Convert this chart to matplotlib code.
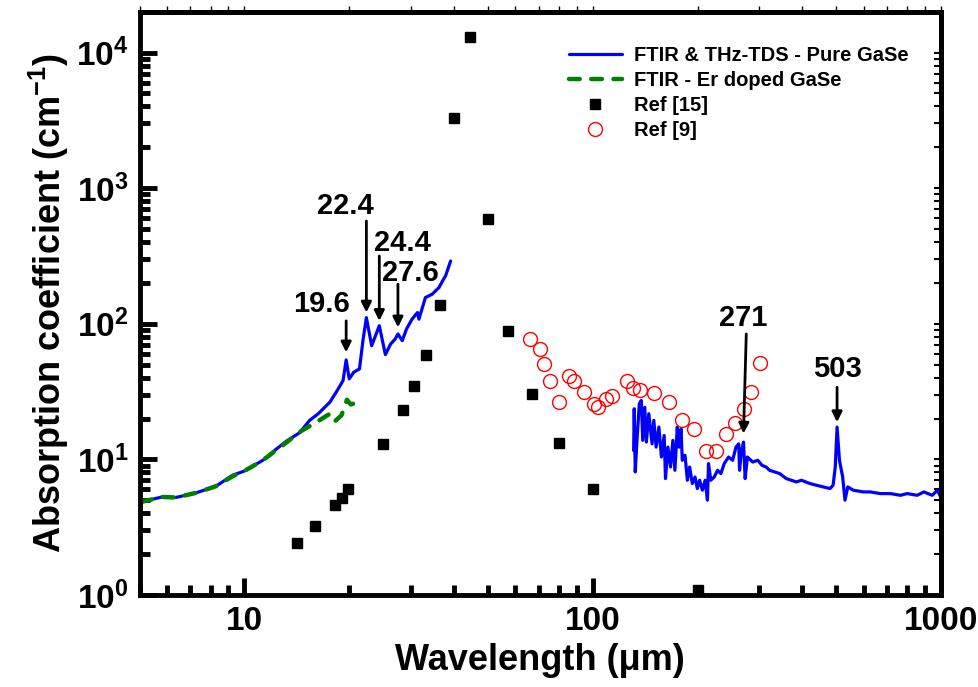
import math
import matplotlib
matplotlib.use('Agg')
import matplotlib.pyplot as plt
from matplotlib.ticker import LogLocator, FuncFormatter, NullFormatter

plt.rcParams['font.family'] = ['Liberation Sans', 'DejaVu Sans']
plt.rcParams['font.weight'] = 'bold'
plt.rcParams['mathtext.fontset'] = 'custom'
plt.rcParams['mathtext.rm'] = 'Liberation Sans:bold'
plt.rcParams['mathtext.bf'] = 'Liberation Sans:bold'
plt.rcParams['mathtext.it'] = 'Liberation Sans:bold:italic'

# FTIR part of the pure GaSe curve (um, cm^-1)
ftir_wl = [5.06, 5.80, 6.35, 7.25, 8.28, 9.25, 10.0, 11.3, 12.4, 13.2, 14.4, 15.4,
           16.3, 17.6, 18.6, 19.2, 19.6, 20.0, 20.6, 21.4, 21.9, 22.4, 23.2, 24.4,
           25.4, 26.3, 27.1, 27.6, 28.4, 29.2, 30.3, 31.4, 31.7, 33.1, 34.6, 36.2,
           37.3, 37.8, 39.1]
ftir_abs = [4.85, 5.28, 5.23, 5.65, 6.33, 7.63, 8.20, 9.84, 12.0, 13.6, 15.7, 19.4,
            21.7, 26.4, 33.1, 38.1, 54.1, 39.2, 43.9, 46.4, 75.0, 111, 68.9, 96.7,
            59.2, 70.9, 77.2, 84.0, 75.0, 91.4, 108, 121, 108, 156, 165, 185,
            213, 225, 290]

# THz-TDS part of the pure GaSe curve
thz_wl = [131.1, 131.6, 132.5, 134.0, 136.1, 137.9, 139.2, 141.1, 142.6, 144.9,
          148.1, 149.8, 152.1, 154.9, 157.5, 160.4, 161.8, 164.4, 167.3, 169.9,
          172.2, 174.9, 176.9, 179.3, 180.8, 184.1, 187.0, 189.8, 193.2, 196.7,
          199.7, 202.8, 206.5, 210.3, 213.5, 215.0, 218.3, 223.3, 228.3, 233.3,
          238.6, 245.5, 252.2, 257.8, 262.5, 264.0, 267.5, 271.0, 274.0, 278.0,
          288.1, 297.8, 306.4, 314.7, 322.0, 333.0, 344.3, 359.6, 371.8, 384.4,
          397.4, 420.2, 439.1, 459.1, 479.9, 490.0, 497.0, 503.0, 511.0, 522.0,
          530.0, 540.0, 560.0, 599.0, 626.2, 669.4, 715.5, 764.8, 799.0, 854.2,
          893.1, 943.8, 975.7, 998.0]
thz_abs = [11.6, 23.6, 8.07, 13.8, 25.7, 27.2, 13.8, 24.2, 13.4, 21.7,
           13.0, 19.4, 12.3, 17.3, 10.4, 15.0, 7.21, 12.3, 8.78, 13.8,
           8.30, 17.3, 12.3, 16.8, 9.84, 10.7, 7.01, 8.78, 6.63, 7.41,
           6.09, 7.01, 5.92, 7.01, 5.00, 9.30, 7.01, 7.41, 8.30, 7.85,
           9.30, 10.4, 9.84, 12.3, 13.0, 8.30, 11.6, 13.4, 7.21, 10.4,
           9.55, 9.84, 9.03, 8.78, 8.30, 8.07, 7.85, 7.21, 7.01, 6.81,
           7.01, 6.63, 6.44, 6.26, 6.09, 6.44, 8.78, 17.3, 9.84, 7.41,
           5.00, 6.26, 5.92, 5.75, 5.75, 5.59, 5.59, 5.43, 5.59, 5.43,
           5.75, 5.43, 5.92, 5.28]

# FTIR - Er doped GaSe
er_wl = [5.06, 5.80, 6.35, 7.25, 8.28, 9.25, 10.0, 11.3, 12.4, 13.2, 14.4, 16.1,
         17.6, 18.2, 19.0, 19.7, 20.2, 21.6]
er_abs = [4.85, 5.28, 5.23, 5.65, 6.33, 7.5, 8.2, 9.84, 11.8, 13.3, 15.9, 18.8,
          21.7, 19.1, 21.1, 27.5, 25.4, 26.7]

# Ref [15]
ref15_wl = [14.2, 15.9, 18.2, 19.1, 19.9, 25.0, 28.6, 30.7, 33.3, 36.4, 39.9, 44.4,
            50.0, 57.3, 66.8, 80.2, 100.2, 201]
ref15_abs = [2.42, 3.23, 4.57, 5.23, 6.06, 12.97, 23.2, 34.6, 59.2, 137, 3270, 13100,
             592, 88.4, 30.1, 13.2, 6.09, 1.09]

# Ref [9]
ref9_wl = [66.1, 70.6, 72.5, 75.3, 80.2, 85.3, 88.5, 94.2, 100.7, 103.8, 109.0, 113.5,
           125.4, 130.8, 136.8, 150.4, 165.9, 180.8, 195.8, 210.8, 226.6, 241.9,
           256.8, 272.5, 285.5, 301.8]
ref9_abs = [77.2, 64.7, 50.2, 37.7, 26.6, 41.5, 37.5, 31.5, 25.4, 24.2, 27.8, 29.2,
            37.7, 33.4, 32.6, 30.6, 26.6, 19.6, 16.7, 11.6, 11.6, 15.5,
            18.5, 23.4, 31.6, 51.4]

# labelled peaks
peak_labels = ['19.6', '22.4', '24.4', '27.6', '271', '503']

fig = plt.figure(figsize=(9.79, 6.87), dpi=100)
ax = fig.add_axes([0.1425, 0.134, 0.8187, 0.849])
ax.set_xscale('log')
ax.set_yscale('log')

ax.plot(ftir_wl, ftir_abs, color='#0000ff', lw=2.3, solid_capstyle='round',
        label='FTIR & THz-TDS - Pure GaSe')
ax.plot(thz_wl, thz_abs, color='#0000ff', lw=2.3, solid_capstyle='round')
ax.plot(er_wl, er_abs, color='#008000', lw=3.2, ls=(0, (2.4, 2.6)), dash_capstyle='round',
        label='FTIR - Er doped GaSe')
ax.plot(ref15_wl, ref15_abs, 's', color='black', ms=7.5, ls='none', label='Ref [15]')
ax.plot(ref9_wl, ref9_abs, 'o', mfc='none', mec='red', ms=10, mew=1.0, ls='none', label='Ref [9]')

# arrows: (x tip, y tip, x tail, y tail, x text, y text)
arrows = [(19.6, 61.5, 19.6, 105, 16.7, 140),
          (22.4, 121, 22.4, 572, 19.5, 738),
          (24.4, 105, 24.4, 316, 28.4, 396),
          (27.6, 94, 27.6, 196, 30.0, 238),
          (271, 15.5, 276, 84, 271, 111),
          (503, 18.8, 503, 34, 503, 46.4)]
for lab, (xt, yt, xs, ys, xx, yy) in zip(peak_labels, arrows):
    ax.annotate('', xy=(xt, yt), xytext=(xs, ys),
                arrowprops=dict(arrowstyle='-|>', color='black', lw=2, mutation_scale=15,
                                shrinkA=0, shrinkB=0))
    ax.text(xx, yy, lab, ha='center', va='center', fontsize=21, fontweight='bold')

ax.set_xlim(5, 1000)
ax.set_ylim(1, 2e4)
ax.xaxis.set_major_formatter(FuncFormatter(lambda v, p: '%g' % v))
ax.xaxis.set_minor_formatter(NullFormatter())
ax.yaxis.set_major_locator(LogLocator(base=10, numticks=10))
ax.yaxis.set_minor_locator(LogLocator(base=10, subs=range(2, 10), numticks=20))
ax.yaxis.set_major_formatter(FuncFormatter(lambda v, p: r'$\mathbf{10^{%d}}$' % round(math.log10(v))))

ax.tick_params(which='major', direction='in', length=12, width=3.5, labelsize=24, pad=8)
ax.tick_params(which='minor', direction='in', length=7, width=3.5)
for s in ax.spines.values():
    s.set_linewidth(3.5)

sec_x = ax.secondary_xaxis('top')
sec_x.tick_params(which='both', direction='out', length=4, width=1, labeltop=False)
sec_x.xaxis.set_minor_formatter(NullFormatter())
sec_x.spines['top'].set_linewidth(3.5)
sec_y = ax.secondary_yaxis('right')
sec_y.tick_params(which='both', direction='in', length=5, width=1.5, labelright=False)
sec_y.yaxis.set_minor_formatter(NullFormatter())
sec_y.spines['right'].set_linewidth(3.5)

ax.set_xlabel('Wavelength (μm)', fontsize=26, fontweight='bold', labelpad=4)
ax.set_ylabel(r'Absorption coefficient (cm$^{\mathbf{-1}}$)', fontsize=26, fontweight='bold', labelpad=4)

ax.legend(loc='upper left', bbox_to_anchor=(0.526, 0.955), frameon=False, fontsize=14.5,
          handlelength=2.6, handletextpad=0.6, labelspacing=0.3, borderaxespad=0)

fig.savefig('out.png', dpi=100)
